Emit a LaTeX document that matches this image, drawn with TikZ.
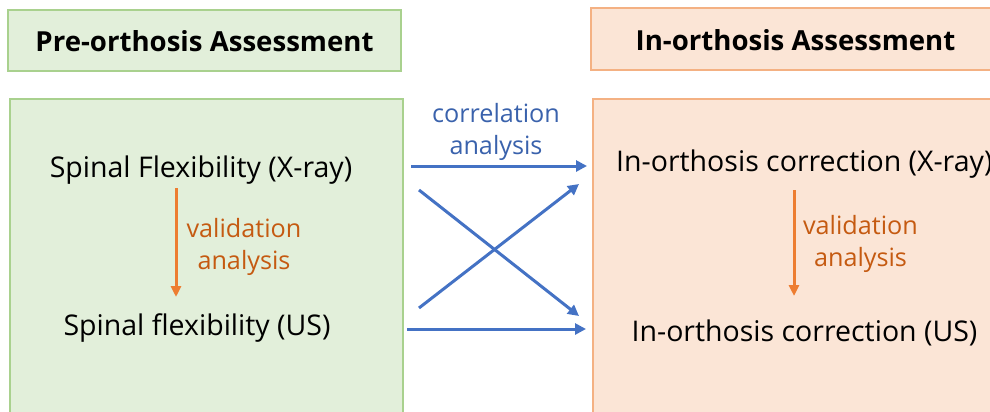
\documentclass[tikz,border=0pt]{standalone}
\usepackage{fontspec}
\setmainfont{Open Sans}
\usetikzlibrary{arrows.meta}
\definecolor{gfill}{HTML}{E2EFDA}
\definecolor{gline}{HTML}{A9D18E}
\definecolor{ofill}{HTML}{FBE5D6}
\definecolor{oline}{HTML}{F4B183}
\definecolor{barrow}{HTML}{4472C4}
\definecolor{btext}{HTML}{3A62AC}
\definecolor{oarrow}{HTML}{ED7D31}
\definecolor{otext}{HTML}{C55A11}
\begin{document}
\begin{tikzpicture}[x=1pt,y=-1pt,
  gbox/.style={fill=gfill,draw=gline,line width=1.2pt},
  obox/.style={fill=ofill,draw=oline,line width=1.2pt},
  hdr/.style={font=\fontsize{27.6}{32}\selectfont\bfseries,text=black,inner sep=0pt},
  maintext/.style={font=\fontsize{28.5}{33}\selectfont,text=black,inner sep=0pt},
  lbl/.style={font=\fontsize{25.2}{32}\selectfont,align=center,inner sep=0pt},
  barr/.style={draw=barrow,line width=3pt,-{Triangle[length=11pt,width=11pt]}},
  oarr/.style={draw=oarrow,line width=3pt,-{Triangle[length=11pt,width=10pt]}}]
\useasboundingbox (0,0) rectangle (990,412);
\clip (0,0) rectangle (990,412);
% boxes
\path[gbox] (8,10) rectangle (401,71);
\path[gbox] (10,99) rectangle (403,440);
\path[obox] (591,8) rectangle (1010,70);
\path[obox] (593,99) rectangle (1010,440);
% headers
\node[hdr] (hl) at (204.5,41) {Pre-orthosis Assessment};
\node[hdr] (hr) at (795.5,40) {In-orthosis Assessment};
% main texts
\node[maintext] (fx) at (201,170) {Spinal Flexibility (X-ray)};
\node[maintext] (fus) at (197,328) {Spinal flexibility (US)};
\node[maintext,anchor=west] (cx) at (616,164.5) {In-orthosis correction (X-ray)};
\node[maintext] (cus) at (804.5,333) {In-orthosis correction (US)};
% labels
\node[lbl,text=btext] (corr) at (496,132) {correlation\\analysis};
\node[lbl,text=otext] (vl) at (244,247) {validation\\analysis};
\node[lbl,text=otext] (vr) at (860.5,244) {validation\\analysis};
% arrow end points
\coordinate (t1) at (411,166); \coordinate (t2) at (587,166);
\coordinate (b1) at (407,329); \coordinate (b2) at (586,329);
\coordinate (d1) at (419,190); \coordinate (d2) at (579,316);
\coordinate (u1) at (419,308); \coordinate (u2) at (579,184);
\coordinate (ol1) at (176,188); \coordinate (ol2) at (176,297);
\coordinate (or1) at (794,190); \coordinate (or2) at (794,296);
% arrows
\draw[barr] (t1) -- (t2);
\draw[barr] (b1) -- (b2);
\draw[barr] (d1) -- (d2);
\draw[barr] (u1) -- (u2);
\draw[oarr] (ol1) -- (ol2);
\draw[oarr] (or1) -- (or2);
\end{tikzpicture}
\end{document}
